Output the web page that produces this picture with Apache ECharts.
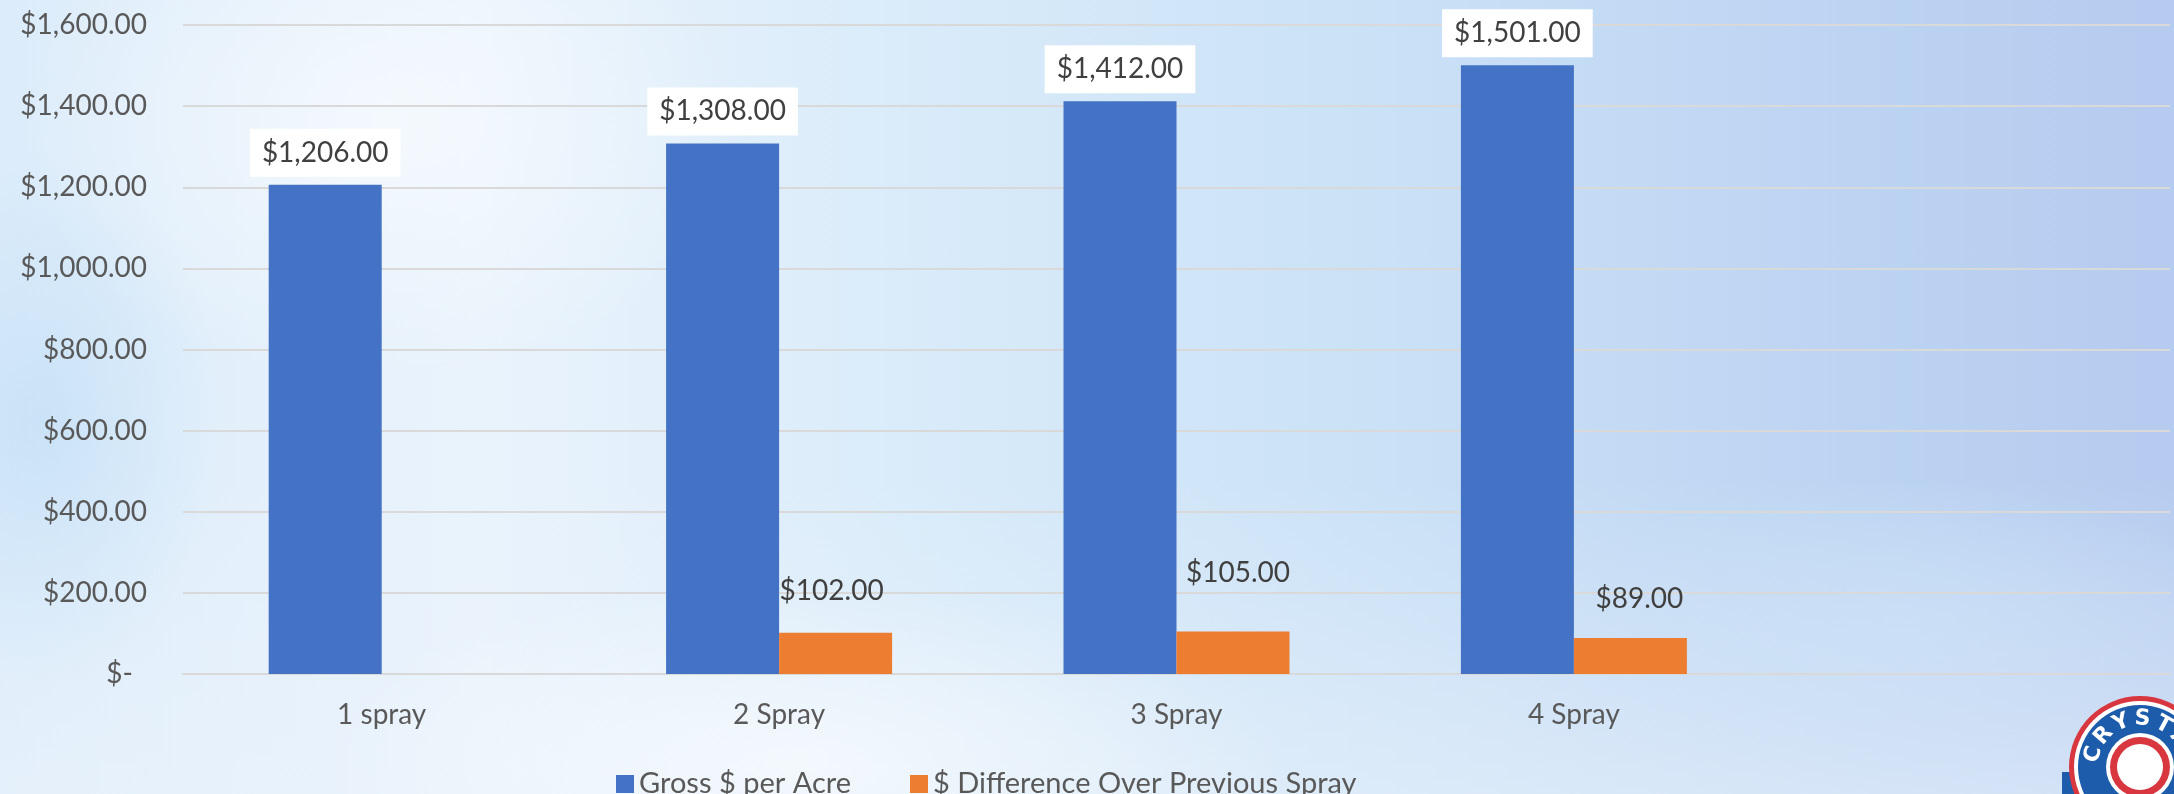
<!DOCTYPE html>
<html>
<head>
<meta charset="utf-8">
<script src="https://cdn.jsdelivr.net/npm/echarts@6/dist/echarts.min.js"></script>
<style>
html, body { margin: 0; padding: 0; }
body {
    width: 2174px; height: 794px; overflow: hidden;
    background:
        radial-gradient(ellipse 700px 260px at 800px 760px, rgba(255,255,255,0.55), rgba(255,255,255,0) 70%),
        radial-gradient(ellipse 520px 380px at 380px 120px, rgba(255,255,255,0.55), rgba(255,255,255,0) 70%),
        radial-gradient(ellipse 260px 380px at 40px 420px, rgba(190,220,245,0.6), rgba(190,220,245,0) 70%),
        radial-gradient(ellipse 500px 200px at 1900px 620px, rgba(205,226,247,0.6), rgba(205,226,247,0) 70%),
        linear-gradient(180deg, rgba(255,255,255,0) 60%, rgba(235,243,251,0.55) 100%),
        linear-gradient(90deg, #dcecfa 0%, #e9f3fc 22%, #d7eaf9 45%, #c9e0f6 65%, #bcd4f2 85%, #b5cbef 100%);
}
#main { width: 2174px; height: 794px; }
</style>
</head>
<body>
<div id="main"></div>
<script>
// 数据
const categories = ['1 spray', '2 Spray', '3 Spray', '4 Spray', ''];
const grossPerAcre = [1206, 1308, 1412, 1501, null];
const diffOverPrevious = [null, 102, 105, 89, null];
const yTicks = { min: 0, max: 1600, interval: 200 };

// labels of the orange bars were dragged by hand in the original
const diffLabelShift = [[0, 0], [-4, -25], [5, -41], [9, -22], [0, 0]];

const FONT = 'Lato';
const money = v => '$' + v.toLocaleString('en-US', { minimumFractionDigits: 2, maximumFractionDigits: 2 });

const myChart = echarts.init(document.getElementById('main'), null, { renderer: 'canvas' });

// logo in the corner
const logoX = 2140, logoY = 767;
const logoLetters = ['C', 'R', 'Y', 'S', 'T', 'A', 'L'];
const letterEls = logoLetters.map((ch, i) => {
    const ang = (-165 + i * 26) * Math.PI / 180;
    return {
        type: 'text',
        x: logoX + 48 * Math.cos(ang),
        y: logoY + 48 * Math.sin(ang),
        rotation: -(ang + Math.PI / 2),
        style: {
            text: ch, fill: '#fff', font: 'bold 22px "DejaVu Sans"',
            align: 'center', verticalAlign: 'middle'
        },
        z: 20
    };
});

const legendText = { color: '#595959', fontSize: 29, fontFamily: FONT, lineHeight: 34 };

const options = {
    backgroundColor: 'transparent',
    animation: false,
    grid: { left: 183, right: 4, top: 25, bottom: 120, show: false },
    legend: [
        {
            left: 611, top: 762,
            itemWidth: 18, itemHeight: 18, icon: 'rect',
            textStyle: legendText,
            data: ['Gross $ per Acre']
        },
        {
            left: 905, top: 762,
            itemWidth: 18, itemHeight: 18, icon: 'rect',
            textStyle: legendText,
            data: ['$ Difference Over Previous Spray']
        }
    ],
    xAxis: {
        type: 'category',
        data: categories,
        axisLine: { show: true, lineStyle: { color: '#d9d9d9', width: 2 } },
        axisTick: { show: false },
        axisLabel: { color: '#595959', fontSize: 28, fontFamily: FONT, margin: 27 }
    },
    yAxis: {
        type: 'value',
        min: yTicks.min, max: yTicks.max, interval: yTicks.interval,
        axisLine: { show: false },
        axisTick: { show: false },
        axisLabel: {
            color: '#595959', fontSize: 28, fontFamily: FONT, margin: 36,
            formatter: v => v === 0 ? '{z|$-}' : money(v),
            rich: { z: { color: '#595959', fontSize: 28, fontFamily: FONT, padding: [0, 14, 0, 0] } }
        },
        splitLine: { show: true, lineStyle: { color: '#d9d9d9', width: 2 } }
    },
    series: [
        {
            name: 'Gross $ per Acre',
            type: 'bar',
            data: grossPerAcre,
            barWidth: 113,
            barGap: '0%',
            itemStyle: { color: '#4472c4' },
            label: {
                show: true, position: 'top', distance: 8,
                formatter: p => money(p.value),
                color: '#404040', fontSize: 28, fontFamily: FONT, lineHeight: 34,
                backgroundColor: '#ffffff', padding: [7, 12, 7, 12]
            }
        },
        {
            name: '$ Difference Over Previous Spray',
            type: 'bar',
            data: diffOverPrevious.map((v, i) => ({
                value: v,
                label: { offset: diffLabelShift[i] }
            })),
            barWidth: 113,
            itemStyle: { color: '#ed7d31' },
            label: {
                show: true, position: 'top', distance: 0,
                formatter: p => p.value == null ? '' : money(p.value),
                color: '#404040', fontSize: 28, fontFamily: FONT, lineHeight: 34
            }
        }
    ],
    graphic: [
        { type: 'rect', shape: { x: 2062, y: 772, width: 40, height: 30 }, style: { fill: '#1d5bab' }, z: 10 },
        { type: 'circle', shape: { cx: logoX, cy: logoY, r: 71 }, style: { fill: '#d8373f' }, z: 11 },
        { type: 'circle', shape: { cx: logoX, cy: logoY, r: 66 }, style: { fill: '#ffffff' }, z: 12 },
        { type: 'circle', shape: { cx: logoX, cy: logoY, r: 62 }, style: { fill: '#1d5bab' }, z: 13 },
        { type: 'circle', shape: { cx: logoX, cy: logoY, r: 34 }, style: { fill: '#ffffff' }, z: 14 },
        { type: 'circle', shape: { cx: logoX, cy: logoY, r: 30 }, style: { fill: '#d8373f' }, z: 15 },
        { type: 'circle', shape: { cx: logoX, cy: logoY, r: 23 }, style: { fill: '#ffffff' }, z: 16 }
    ].concat(letterEls)
};

myChart.setOption(options);
window.addEventListener('resize', function () {
    myChart.resize();
});
</script>
</body>
</html>
